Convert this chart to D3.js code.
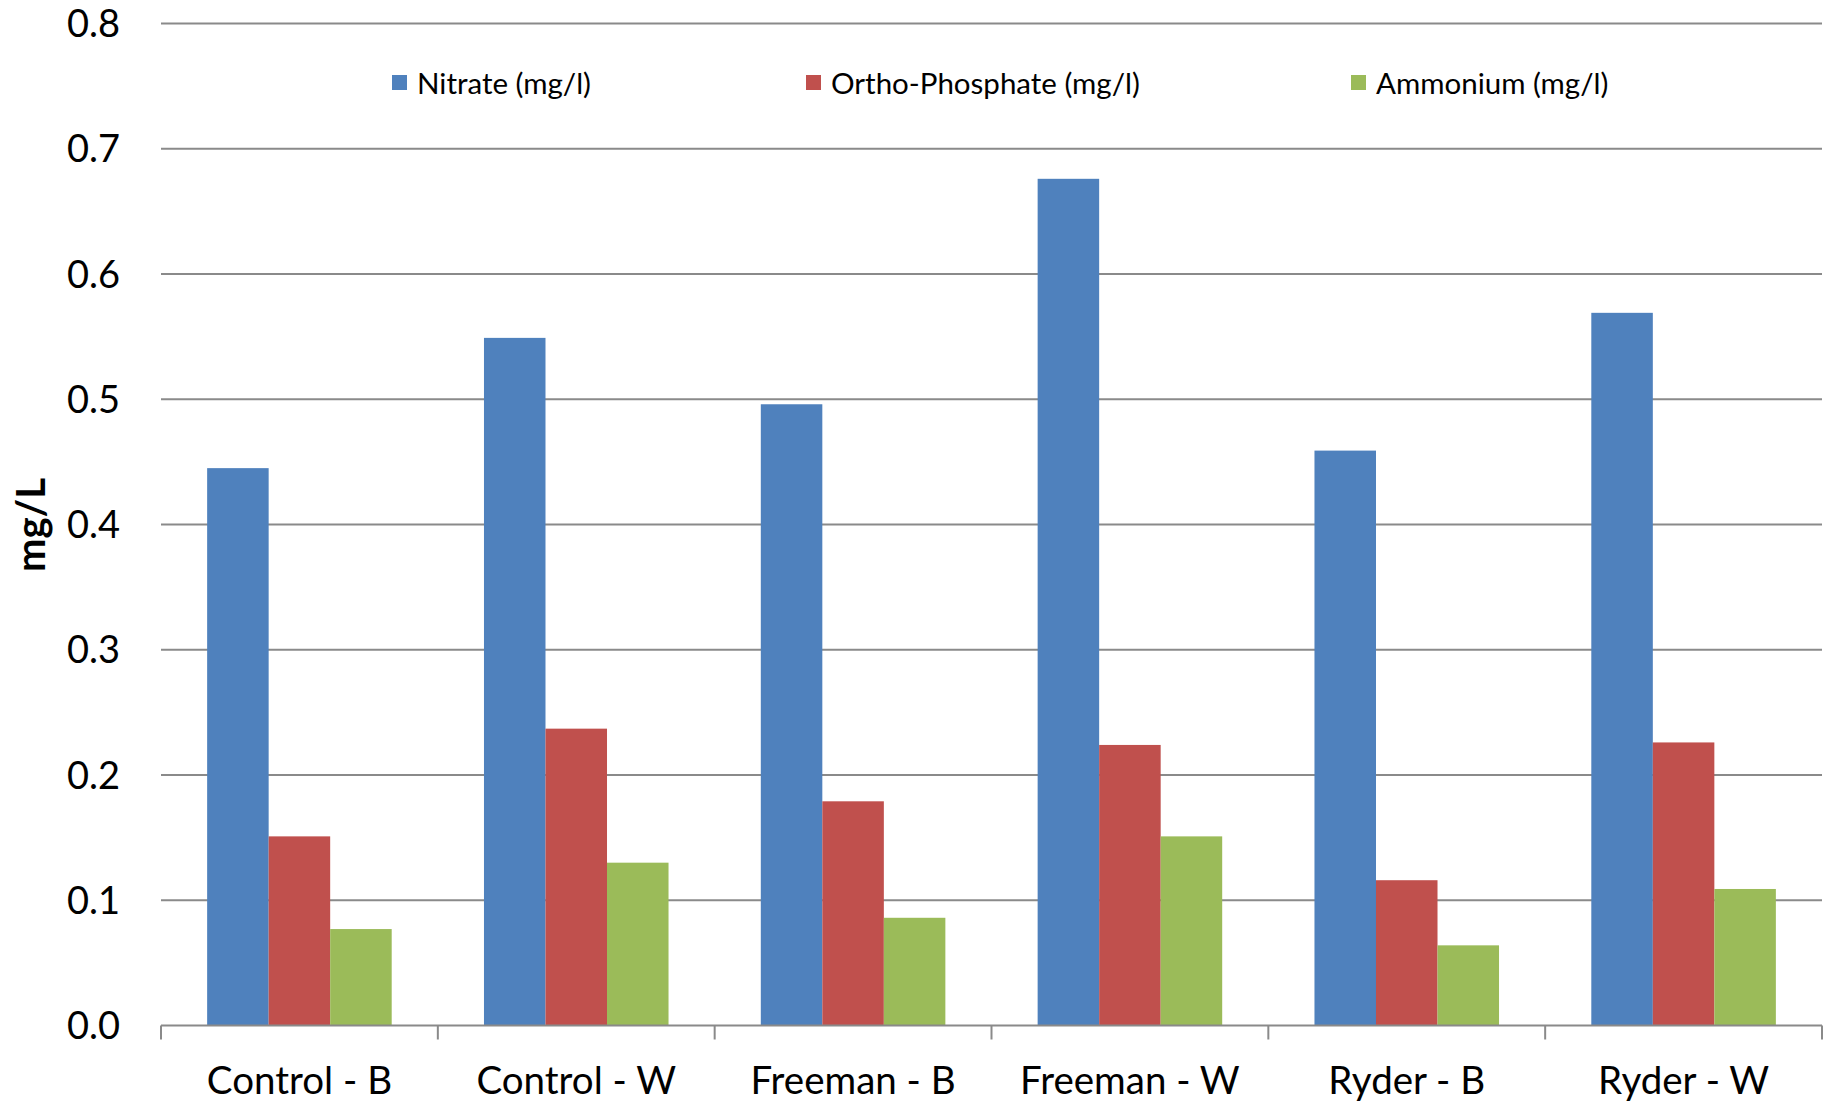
<!DOCTYPE html>
<html><head><meta charset="utf-8">
<script src="https://cdn.jsdelivr.net/npm/d3@7"></script>
<style>body{margin:0;background:#fff}svg{display:block}</style>
</head><body>
<svg id="chart" width="1829" height="1103"></svg>
<script>
const categories = ["Control - B","Control - W","Freeman - B","Freeman - W","Ryder - B","Ryder - W"];
const seriesNames = ["Nitrate (mg/l)","Ortho-Phosphate (mg/l)","Ammonium (mg/l)"];
const nitrate = [0.445,0.549,0.496,0.676,0.459,0.569];
const orthoPhosphate = [0.151,0.237,0.179,0.224,0.116,0.226];
const ammonium = [0.077,0.130,0.086,0.151,0.064,0.109];
const yTicks = [0,0.1,0.2,0.3,0.4,0.5,0.6,0.7,0.8];
const colors = ["#4F81BD","#C0504D","#9BBB59"];

(function(){
const series = [nitrate, orthoPhosphate, ammonium];
const svg = d3.select("#chart");
const font = "Lato, 'Open Sans', sans-serif";
const mLeft = 161, mRight = 1822, mTop = 23.5, mBottom = 1025.5;

const x = d3.scaleBand().domain(categories).range([mLeft,mRight]).paddingInner(1/3).paddingOuter(1/6);
const xs = d3.scaleBand().domain(d3.range(3)).range([0,x.bandwidth()]);
const y = d3.scaleLinear().domain([0,0.8]).range([mBottom,mTop]);

svg.append("g").selectAll("line").data(yTicks.filter(d=>d>0)).join("line")
  .attr("x1",mLeft).attr("x2",mRight)
  .attr("y1",d=>y(d)).attr("y2",d=>y(d))
  .attr("stroke","#8a8a8a").attr("stroke-width",2);

const g = svg.append("g");
categories.forEach((c,i)=>{
  series.forEach((s,j)=>{
    g.append("rect")
      .attr("x",x(c)+xs(j)).attr("width",xs.bandwidth())
      .attr("y",y(s[i])).attr("height",y(0)-y(s[i]))
      .attr("fill",colors[j]);
  });
});

const step = x.step();
const boundaries = d3.range(categories.length+1).map(i=>mLeft+i*step);
svg.append("line").attr("x1",mLeft).attr("x2",mRight).attr("y1",y(0)).attr("y2",y(0))
  .attr("stroke","#8a8a8a").attr("stroke-width",2);
svg.append("g").selectAll("line").data(boundaries).join("line")
  .attr("x1",d=>d).attr("x2",d=>d).attr("y1",y(0)).attr("y2",y(0)+14)
  .attr("stroke","#8a8a8a").attr("stroke-width",2);

svg.append("g").selectAll("text").data(categories).join("text")
  .attr("x",d=>x(d)+x.bandwidth()/2).attr("y",1094)
  .attr("text-anchor","middle").attr("font-family",font).attr("font-size",38.5)
  .attr("fill","#000").text(d=>d);

svg.append("g").selectAll("text").data(yTicks).join("text")
  .attr("x",120).attr("y",d=>y(d)).attr("dy","0.36em")
  .attr("text-anchor","end").attr("font-family",font).attr("font-size",38)
  .attr("fill","#000").text(d=>d.toFixed(1));

svg.append("text").attr("transform","translate(45,525) rotate(-90)")
  .attr("text-anchor","middle").attr("font-family",font).attr("font-size",40)
  .attr("font-weight","bold").attr("fill","#000").text("mg/L");

const legendX = [392,806,1351];
const lg = svg.append("g");
seriesNames.forEach((n,j)=>{
  lg.append("rect").attr("x",legendX[j]).attr("y",75).attr("width",15).attr("height",15).attr("fill",colors[j]);
  lg.append("text").attr("x",legendX[j]+25).attr("y",83).attr("dy","0.36em")
    .attr("font-family",font).attr("font-size",29.5).attr("fill","#000").text(n);
});
})();
</script>
</body></html>
